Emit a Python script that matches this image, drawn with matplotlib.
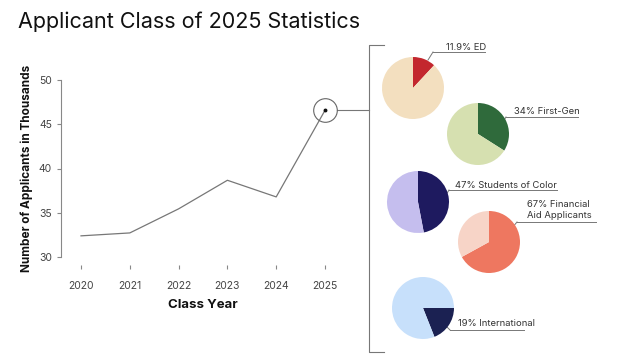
import matplotlib
matplotlib.use("Agg")
import matplotlib.pyplot as plt

plt.rcParams['font.family'] = ['Inter', 'DejaVu Sans']

years = [2020, 2021, 2022, 2023, 2024, 2025]
applicants = [32.39, 32.72, 35.44, 38.67, 36.79, 46.57]
yticks = [30, 35, 40, 45, 50]

pie_labels = ["11.9% ED", "34% First-Gen", "47% Students of Color",
              "67% Financial\nAid Applicants", "19% International"]
pie_values = [11.9, 34, 47, 67, 19]
pie_fg = ["#C3272E", "#2F6A3B", "#1E1A5F", "#EE7760", "#1B2152"]
pie_bg = ["#F3DFBF", "#D6E0B0", "#C5BEEE", "#F7D4C7", "#C7E0FB"]
pie_start = [90, 90, 90, 90, 0]

W, H = 639, 363
fig = plt.figure(figsize=(W / 100, H / 100), dpi=100)

def fx(px):
    return px / W

def fy(py):
    return 1 - py / H

# overlay in pixel coordinates
ov = fig.add_axes([0, 0, 1, 1], zorder=0)
ov.set_xlim(0, W)
ov.set_ylim(H, 0)
ov.axis('off')

fig.text(fx(18), fy(22), "Applicant Class of 2025 Statistics", fontsize=15.5,
         color="#111111", va='center', ha='left')

# line chart
ax = fig.add_axes([fx(61), fy(257), fx(345) - fx(61), fy(80) - fy(257)], zorder=2)
ax.patch.set_alpha(0)
ax.plot(years, applicants, color="#777777", lw=0.9)
ax.set_xlim(2019.59, 2025.41)
ax.set_ylim(30, 50)
ax.set_yticks(yticks)
ax.set_xticks(years)
for s in ['top', 'right']:
    ax.spines[s].set_visible(False)
ax.spines['bottom'].set_position(('outward', 6))
ax.spines['bottom'].set_visible(False)
ax.spines['left'].set_color("#888888")
ax.spines['left'].set_linewidth(0.8)
ax.tick_params(axis='both', colors="#888888", labelcolor="#444444", labelsize=7.5,
               length=3, width=0.8)
ax.tick_params(axis='x', pad=8)
ax.set_xlabel("Class Year", fontsize=9.5, fontweight='bold', color="#111111", labelpad=6)
ax.set_ylabel("Number of Applicants in Thousands", fontsize=8.5, fontweight='bold',
              color="#111111", labelpad=4)

# highlight last point
ax.plot([years[-1]], [applicants[-1]], 'o', ms=17, mfc='none', mec="#666666",
        mew=0.8, clip_on=False)
ax.plot([years[-1]], [applicants[-1]], 'o', ms=1.8, color="#111111", clip_on=False)

fig.canvas.draw()
px, py = ax.transData.transform((years[-1], applicants[-1]))
py_top = H - py
lc = "#777777"
ov.plot([px + 12, 369], [py_top, py_top], color=lc, lw=0.8)
ov.plot([384, 369, 369, 384], [45, 45, 352, 352], color=lc, lw=0.8)

# pies
centers = [(413, 88), (478, 134), (418, 202), (489, 242), (423, 308)]
R = 31
for (cx, cy), v, fg, bg, st in zip(centers, pie_values, pie_fg, pie_bg, pie_start):
    pa = fig.add_axes([fx(cx - R), fy(cy + R), fx(2 * R), fy(0) - fy(2 * R)], zorder=3)
    pa.pie([v, 100 - v], colors=[fg, bg], startangle=st, counterclock=False,
           wedgeprops=dict(linewidth=0))
    pa.set_xlim(-1, 1)
    pa.set_ylim(-1, 1)
    pa.set_aspect('equal')
    pa.axis('off')

# labels with leader lines (pixel layout)
label_layout = [
    (446, 48, 433, 485, 52, (428, 60)),
    (514, 111, 506, 578, 117, (503, 122)),
    (455, 185, 449, 557, 190, (446, 195)),
    (527, 210, 517, 596, 222, (512, 228)),
    (458, 324, 450, 524, 330, (446, 326)),
]
for lab, (tx, ty, ux0, ux1, uy, (lx, ly)) in zip(pie_labels, label_layout):
    ov.text(tx, ty, lab, fontsize=6.8, color="#333333", ha='left', va='center',
            linespacing=1.3)
    ov.plot([ux0, ux1], [uy, uy], color="#777777", lw=0.7)
    ov.plot([lx, ux0], [ly, uy], color="#777777", lw=0.7)

fig.savefig("out.png", dpi=100)
